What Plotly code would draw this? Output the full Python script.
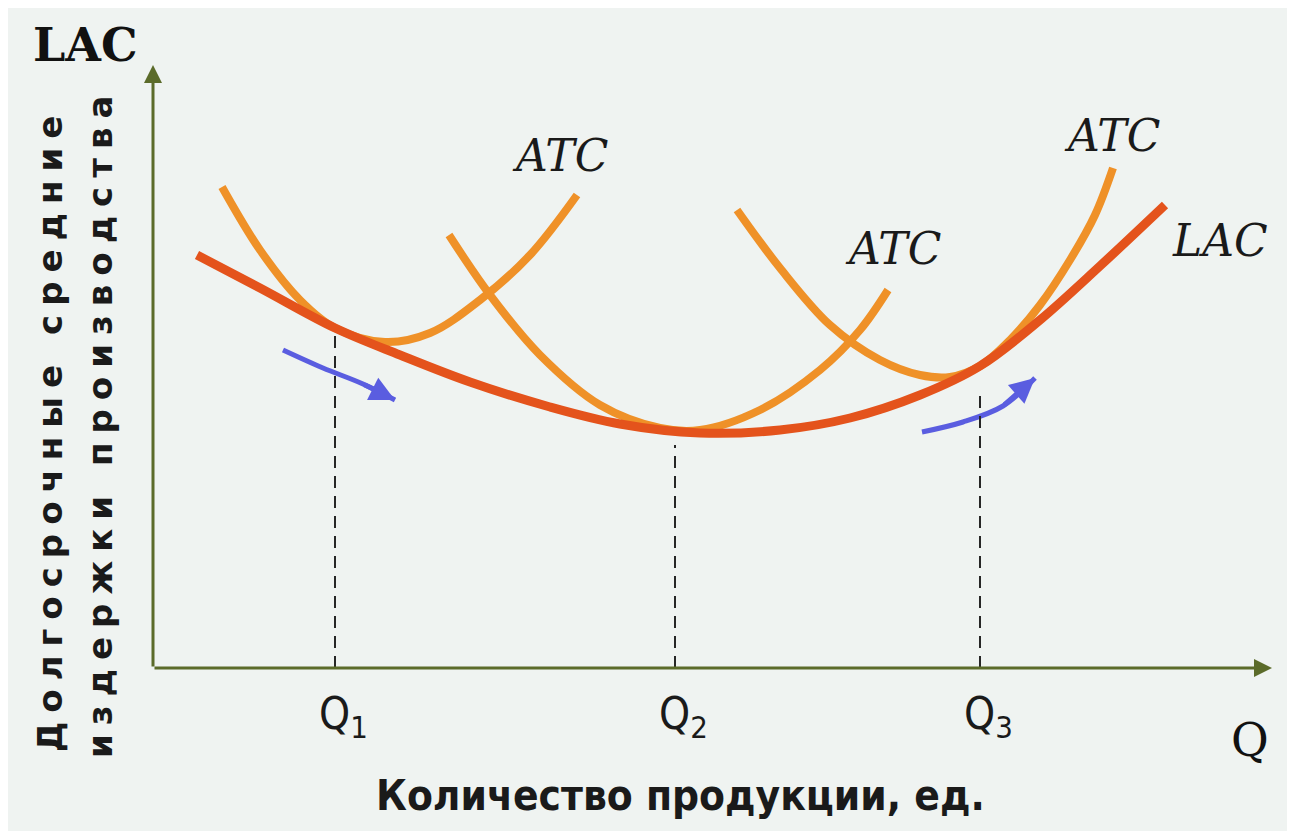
import plotly.graph_objects as go

# data (x = quantity units from the origin, y = cost units above the Q axis)
lac_x = [44, 107, 182, 247, 317, 397, 467, 547, 627, 697, 767, 827, 887, 947, 1012]
lac_y = [413, 380, 340, 313, 286, 261, 244, 235, 238, 250, 273, 302, 348, 402, 463]

atc1_x = [69, 107, 147, 182, 232, 277, 327, 377, 424]
atc1_y = [481, 418, 368, 340, 326, 335, 368, 413, 473]

atc2_x = [296, 337, 387, 447, 507, 547, 607, 667, 707, 735]
atc2_y = [433, 373, 313, 263, 240, 238, 258, 298, 338, 378]

atc3_x = [584, 627, 677, 727, 767, 797, 827, 857, 887, 917, 942, 960]
atc3_y = [458, 400, 343, 308, 293, 291, 302, 328, 363, 408, 453, 500]

q_marks = [182, 522, 827]
q_names = ["Q<sub>1</sub>", "Q<sub>2</sub>", "Q<sub>3</sub>"]
q_tops = [338, 223, 278]

arrow1_x = [130, 170, 210, 242]
arrow1_y = [318, 300, 284, 268]
arrow2_x = [769, 810, 850, 882]
arrow2_y = [236, 246, 262, 290]

AXIS = "#5b6b2a"
LAC_COLOR = "#e4531c"
ATC_COLOR = "#ef9128"
BLUE = "#5a5de0"

fig = go.Figure()

for xs, ys in [(atc1_x, atc1_y), (atc2_x, atc2_y), (atc3_x, atc3_y)]:
    fig.add_trace(go.Scatter(x=xs, y=ys, mode="lines",
                             line=dict(color=ATC_COLOR, width=8, shape="spline", smoothing=1.0),
                             hoverinfo="skip"))

fig.add_trace(go.Scatter(x=lac_x, y=lac_y, mode="lines",
                         line=dict(color=LAC_COLOR, width=9, shape="spline", smoothing=1.0),
                         hoverinfo="skip"))

# blue arrows
for xs, ys in [(arrow1_x, arrow1_y), (arrow2_x, arrow2_y)]:
    fig.add_trace(go.Scatter(x=xs, y=ys, mode="lines",
                             line=dict(color=BLUE, width=5, shape="spline"),
                             hoverinfo="skip"))
    fig.add_annotation(x=xs[-1], y=ys[-1], ax=xs[-2], ay=ys[-2],
                       xref="x", yref="y", axref="x", ayref="y",
                       text="", showarrow=True, arrowhead=2, arrowsize=1.0,
                       arrowwidth=5, arrowcolor=BLUE)

# dashed drop lines and Q labels
for qx, qt, name in zip(q_marks, q_tops, q_names):
    fig.add_trace(go.Scatter(x=[qx, qx], y=[0, qt], mode="lines",
                             line=dict(color="#262626", width=2, dash="12px,8px"),
                             hoverinfo="skip"))
    fig.add_annotation(x=qx, y=-18, text=name, showarrow=False,
                       xanchor="left", yanchor="top", xshift=-18,
                       font=dict(family="DejaVu Sans Condensed, DejaVu Sans", size=44, color="#1a1a1a"))

# axes with arrowheads
fig.add_annotation(x=0, y=603, ax=0, ay=0, xref="x", yref="y", axref="x", ayref="y",
                   text="", showarrow=True, arrowhead=2, arrowsize=1.2,
                   arrowwidth=3, arrowcolor=AXIS)
fig.add_annotation(x=1119, y=0, ax=0, ay=0, xref="x", yref="y", axref="x", ayref="y",
                   text="", showarrow=True, arrowhead=2, arrowsize=1.2,
                   arrowwidth=3, arrowcolor=AXIS)

serif = "DejaVu Serif"
labels = [
    dict(x=407, y=513, text="ATC", font=dict(family=serif, size=44, style="italic", color="#1a1a1a")),
    dict(x=740, y=420, text="ATC", font=dict(family=serif, size=44, style="italic", color="#1a1a1a")),
    dict(x=959, y=533, text="ATC", font=dict(family=serif, size=44, style="italic", color="#1a1a1a")),
    dict(x=1067, y=428, text="LAC", font=dict(family=serif, size=44, style="italic", color="#1a1a1a")),
    dict(x=-68, y=623, text="<b>LAC</b>", font=dict(family=serif, size=46, color="#111111")),
    dict(x=1097, y=-72, text="Q", font=dict(family=serif, size=46, color="#111111")),
]
for lb in labels:
    fig.add_annotation(xref="x", yref="y", showarrow=False, **lb)

# axis titles
fig.add_annotation(x=-103, y=238, text="<span style='letter-spacing:9px'>Долгосрочные средние</span>",
                   textangle=-90, showarrow=False,
                   font=dict(family="DejaVu Sans", size=34, weight="bold", color="#1a1a1a"))
fig.add_annotation(x=-53, y=245, text="<span style='letter-spacing:9px'>издержки производства</span>",
                   textangle=-90, showarrow=False,
                   font=dict(family="DejaVu Sans", size=34, weight="bold", color="#1a1a1a"))
fig.add_annotation(x=527, y=-127, text="Количество продукции, ед.", showarrow=False,
                   font=dict(family="DejaVu Sans Condensed, DejaVu Sans", size=42, weight="bold",
                             color="#1a1a1a"))

fig.update_layout(
    width=1295, height=831,
    margin=dict(l=0, r=0, t=0, b=0),
    paper_bgcolor="#eff3f1",
    plot_bgcolor="#eff3f1",
    showlegend=False,
    xaxis=dict(range=[-145, 1150], visible=False, fixedrange=True),
    yaxis=dict(range=[-171, 660], visible=False, fixedrange=True),
)

fig.write_html("out.html")
